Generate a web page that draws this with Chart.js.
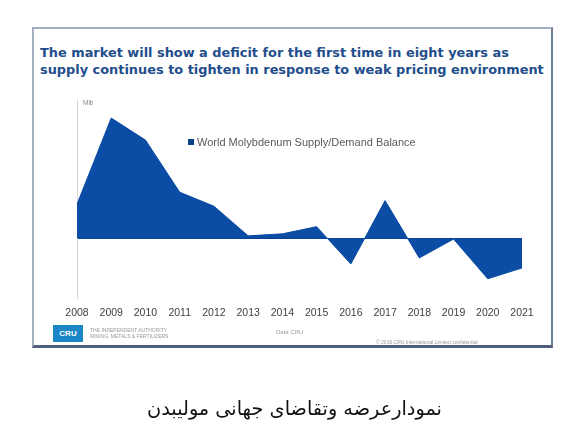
<!DOCTYPE html>
<html lang="en">
<head>
<meta charset="utf-8" />
<title>World Molybdenum Supply/Demand Balance</title>
<script src="https://cdn.jsdelivr.net/npm/chart.js@4.4.1/dist/chart.umd.min.js"></script>
<style>
    html, body { margin: 0; padding: 0; background: #fff; }
    #page { position: relative; width: 577px; height: 443px; overflow: hidden; }
    #frame {
        position: absolute; left: 32px; top: 27px; width: 517px; height: 316px;
        border: 2px solid #a3afc0; border-right-color: #6d7d96; border-bottom: 3px solid #4f5f78;
    }
    #title {
        position: absolute; left: 40px; top: 45px; width: 530px;
        font: bold 12.9px "DejaVu Sans", sans-serif; line-height: 16.5px; color: #1f4e8c;
        white-space: nowrap;
    }
    #chartBox { position: absolute; left: 0; top: 0; width: 577px; height: 443px; }
    #logo {
        position: absolute; left: 53px; top: 325px; width: 30px; height: 17px; background: #1b86c6;
        color: #fff; font: bold 8px "Liberation Sans", sans-serif; line-height: 17px; text-align: center;
    }
    .tiny { position: absolute; color: #9a9a9a; font-family: "Liberation Sans", sans-serif; white-space: nowrap; }
    #caption {
        position: absolute; left: 6px; width: 577px; top: 397px; text-align: center;
        font: 19.3px "DejaVu Sans", sans-serif; color: #111; direction: rtl;
    }
</style>
</head>
<body>
<div id="page">
    <div id="frame"></div>
    <div id="title">The market will show a deficit for the first time in eight years as<br>supply continues to tighten in response to weak pricing environment</div>
    <div id="chartBox"><canvas id="myChart"></canvas></div>
    <div id="logo">CRU</div>
    <div class="tiny" style="left:90px;top:327px;font-size:5px;line-height:6px;">THE INDEPENDENT AUTHORITY<br>MINING, METALS &amp; FERTILIZERS</div>
    <div class="tiny" style="left:276px;top:329px;font-size:6px;">Data CRU</div>
    <div class="tiny" style="left:376px;top:339px;font-size:5px;">&copy; 2016 CRU International Limited confidential</div>
    <div id="caption">نمودارعرضه وتقاضای جهانی مولیبدن</div>
</div>
<script type="text/javascript">
    var years = ['2008', '2009', '2010', '2011', '2012', '2013', '2014', '2015', '2016', '2017', '2018', '2019', '2020', '2021'];
    var balance = [17, 60, 49, 23, 16, 1.2, 2.2, 5.8, -12.8, 18.8, -9.8, -0.4, -20.2, -14.8];
    var seriesName = 'World Molybdenum Supply/Demand Balance';
    var unitLabel = 'Mlb';

    var fillColor = '#0b4ca4';

    // legend and unit label drawn inside the plot, like the original slide
    var slideText = {
        id: 'slideText',
        afterDraw: function(chart) {
            var ctx = chart.ctx;
            var area = chart.chartArea;
            ctx.save();
            ctx.fillStyle = '#8a8a8a';
            ctx.font = '6.5px "Liberation Sans", sans-serif';
            ctx.textBaseline = 'middle';
            ctx.fillText(unitLabel, area.left + 6, area.top + 3);

            var ds = chart.data.datasets[0];
            ctx.fillStyle = '#0a3f8a';
            ctx.fillRect(188, 139, 6, 6);
            ctx.fillStyle = '#5a5a5a';
            ctx.font = '11px "Liberation Sans", sans-serif';
            ctx.fillText(ds.label, 197, 142.5);
            ctx.restore();
        }
    };

    var ctx = document.getElementById('myChart');
    var myChart = new Chart(ctx, {
        type: 'line',
        data: {
            labels: years,
            datasets: [{
                label: seriesName,
                data: balance,
                fill: 'origin',
                backgroundColor: fillColor,
                borderColor: fillColor,
                borderWidth: 1,
                pointRadius: 0,
                tension: 0
            }]
        },
        options: {
            responsive: true,
            maintainAspectRatio: false,
            animation: false,
            layout: { padding: { left: 77, right: 55, top: 100, bottom: 124 } },
            plugins: {
                legend: { display: false },
                tooltip: { enabled: false }
            },
            scales: {
                x: {
                    offset: false,
                    grid: { display: false },
                    border: { display: false },
                    ticks: {
                        padding: 0,
                        color: '#404040',
                        font: { family: '"Liberation Sans", sans-serif', size: 10.5 },
                        maxRotation: 0,
                        autoSkip: false
                    }
                },
                y: {
                    min: -30,
                    max: 69,
                    ticks: { display: false, stepSize: 10 },
                    border: { display: true, color: '#d4d4d4', width: 1 },
                    grid: {
                        drawTicks: false,
                        lineWidth: 1,
                        color: function(c) { return c.tick && c.tick.value === 0 ? '#0a3f8a' : 'transparent'; }
                    }
                }
            }
        },
        plugins: [slideText]
    });
</script>
</body>
</html>
